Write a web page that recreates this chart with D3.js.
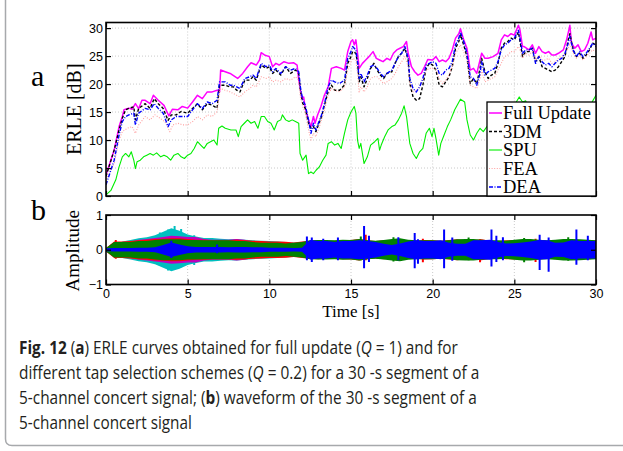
<!DOCTYPE html>
<html>
<head>
<meta charset="utf-8">
<script src="https://cdn.jsdelivr.net/npm/d3@7"></script>
<style>
  body { margin: 0; background: #fff; }
  svg { display: block; }
  .tick text { font-family: "Liberation Sans", Arial, sans-serif; font-size: 12.5px; fill: #000; }
  .serif { font-family: "Liberation Serif", "DejaVu Serif", serif; fill: #000; }
  .cap { font-family: "Open Sans", "Noto Sans", sans-serif; font-size: 18.5px; fill: #231f20; }
</style>
</head>
<body>
<div id="chart"></div>
<script>
// ---- data ----
const fullUpdate = [[0,3.75],[0.5,8.2],[0.8,12.4],[1,14.2],[1.1,15.4],[1.4,15.7],[1.6,15.5],[1.8,16.5],[2,15.6],[2.2,17.1],[2.4,17.1],[2.7,16.5],[2.9,18],[3.2,17.1],[3.55,16.2],[3.85,14.3],[4.06,15.5],[4.4,15.4],[4.67,16],[5,15.7],[5.3,16.8],[5.6,18],[5.9,17.4],[6.2,18.6],[6.5,18.6],[6.8,18.9],[6.95,18.6],[7.02,22.5],[7.3,22.2],[7.6,21.9],[7.76,21.6],[8.06,21],[8.37,21.9],[8.67,23.1],[8.88,23.8],[9.2,23.4],[9.4,24.3],[9.5,25.6],[9.7,25.2],[10,24.9],[10.2,23.1],[10.4,23.7],[10.6,23.4],[10.9,24],[11.2,23.7],[11.5,23.8],[11.7,23.4],[11.8,20.7],[12,17.4],[12.1,17.7],[12.2,15.7],[12.4,13.6],[12.55,12.4],[12.7,14.2],[12.8,13],[12.96,14.5],[13.16,16],[13.37,18],[13.6,19.5],[13.8,22.8],[14.1,23.1],[14.4,22.8],[14.6,22.5],[14.8,25.8],[15,27.6],[15.1,27.9],[15.2,27],[15.3,27.9],[15.4,25.5],[15.5,22.8],[15.7,23.7],[15.9,24.3],[16.1,24.9],[16.35,25.8],[16.55,24.6],[16.75,24.3],[16.96,24],[17.2,24.6],[17.4,24.3],[17.6,25.5],[17.8,26.1],[18,26.4],[18.2,26.7],[18.4,27.6],[18.5,25.5],[18.7,23.1],[18.9,22.2],[19.1,21.6],[19.3,21.9],[19.5,23.1],[19.7,24.4],[20,24.3],[20.2,24.9],[20.4,24],[20.6,24.3],[20.8,24],[21,24.6],[21.2,26.1],[21.4,28.2],[21.6,29],[21.7,29.9],[21.9,27.9],[22.1,26.4],[22.3,22.5],[22.5,22.8],[22.7,21.9],[22.9,24.3],[23,25.5],[23.2,24.6],[23.4,24.6],[23.7,24.9],[24,25.5],[24.2,27.9],[24.4,28.8],[24.6,28.5],[24.8,29],[25,28.75],[25.25,30.5],[25.35,29.6],[25.5,26.7],[25.6,26.7],[25.9,26.1],[26.1,27],[26.3,25.5],[26.5,26.7],[26.7,25.8],[26.9,25.5],[27.1,25.8],[27.3,25.2],[27.5,25.2],[27.7,25.5],[28,26.1],[28.2,27.9],[28.4,30.5],[28.5,27.3],[28.7,26.4],[28.9,27],[29.1,25.8],[29.3,26.1],[29.5,27.3],[29.7,29.3],[29.8,27.9],[30,28.2]];

const dm3 = [[0,3.5],[0.5,8.2],[0.8,11.8],[1,13.9],[1.2,15.4],[1.4,15.65],[1.7,15.95],[1.8,13.6],[2,15.65],[2.4,16.5],[2.7,15.65],[2.95,17.4],[3.2,16.5],[3.5,15.65],[3.8,13.5],[4,14.5],[4.3,14.5],[4.6,15.1],[5,14.8],[5.3,15.65],[5.6,16.5],[5.9,15.4],[6.2,16.5],[6.5,16.25],[6.8,15.65],[6.95,19.8],[7.3,19.8],[7.6,19.5],[7.8,19.5],[8,18.9],[8.2,18.6],[8.5,20.7],[8.8,20.7],[9,21.3],[9.2,20.7],[9.5,23.4],[9.8,22.8],[10,23.1],[10.2,21.9],[10.4,22.5],[10.7,21.6],[11,23.1],[11.3,21.9],[11.6,22.5],[11.8,21.9],[11.9,18.9],[12.05,16.5],[12.2,15.65],[12.4,13],[12.55,12.1],[12.7,12.4],[12.85,11.5],[13,12.7],[13.2,14.2],[13.4,16.5],[13.6,18.6],[13.8,19.8],[14,18.9],[14.3,18.9],[14.6,19.8],[14.8,23.7],[15,24.9],[15.1,25.8],[15.3,25.5],[15.4,23.7],[15.5,20.4],[15.6,21.3],[15.8,19.5],[16,21],[16.2,22.8],[16.4,23.7],[16.6,22.5],[16.8,21.6],[17,21],[17.2,21.9],[17.5,22.2],[17.7,23.7],[17.9,24.9],[18.1,25.5],[18.3,26.4],[18.5,24.3],[18.6,20.1],[18.8,17.7],[19,17.1],[19.2,17.4],[19.4,19.8],[19.6,22.8],[19.8,23.7],[20,23.4],[20.2,22.5],[20.4,19.8],[20.6,19.5],[20.8,20.4],[21,21.3],[21.2,23.1],[21.4,26.4],[21.6,27.6],[21.7,28.8],[21.9,27],[22.1,24.9],[22.3,20.1],[22.5,21],[22.7,20.1],[22.9,22.8],[23,24.6],[23.2,22.2],[23.4,21],[23.6,21.6],[23.8,21.9],[24,23.7],[24.2,26.4],[24.4,27.3],[24.6,27.6],[24.8,28.2],[25,27.9],[25.25,29.3],[25.4,26.7],[25.5,24.9],[25.7,25.8],[25.9,25.8],[26.1,26.4],[26.3,24],[26.5,24.9],[26.7,23.1],[26.9,22.8],[27.1,22.5],[27.3,22.2],[27.5,22.5],[27.7,23.1],[27.9,24],[28.1,24.9],[28.3,27.9],[28.4,29],[28.6,26.1],[28.8,24.9],[29,25.5],[29.2,24.6],[29.4,25.2],[29.6,26.1],[29.8,27.3],[30,27]];

const spu = [[0,0.2],[0.3,1],[0.6,2.9],[0.8,5.2],[1,7],[1.2,7.6],[1.4,7],[1.55,7.9],[1.7,6.4],[1.8,4.9],[1.9,6.1],[2.1,6.4],[2.3,7],[2.5,7.3],[2.7,7.6],[2.9,7.3],[3.1,7.7],[3.35,7],[3.55,7.3],[3.75,7],[3.96,6.4],[4.16,7.3],[4.4,7.6],[4.6,7],[4.8,6.7],[5,7.3],[5.2,7.6],[5.4,8.5],[5.6,9.7],[5.8,9.1],[6,8.5],[6.2,9.4],[6.4,9.7],[6.6,10],[6.8,9.1],[6.9,12.1],[7.1,12.5],[7.3,12.1],[7.65,11.8],[7.96,11.8],[8.1,10.6],[8.27,12.4],[8.47,13],[8.67,13.6],[8.88,13],[9.1,13.3],[9.3,12.1],[9.5,14.2],[9.7,14.2],[9.9,13.3],[10.1,13],[10.3,11.8],[10.5,13.3],[10.7,13.6],[10.8,14.5],[11,13.6],[11.2,13.3],[11.4,13.6],[11.6,13.3],[11.8,13],[11.88,7.6],[12.04,6.4],[12.25,7.3],[12.4,4],[12.55,4.3],[12.7,4],[12.86,4.6],[13.06,5.2],[13.27,6.4],[13.47,7.3],[13.6,9.4],[13.8,9.7],[14,9.1],[14.2,9.4],[14.4,8.5],[14.6,11.2],[14.8,13.6],[15,15],[15.2,16],[15.3,14.8],[15.4,10],[15.5,8.5],[15.6,9.4],[15.8,5.8],[16,7],[16.2,9.1],[16.45,9.7],[16.65,10.3],[16.75,8.2],[16.85,9.1],[17.06,10.6],[17.27,11.8],[17.5,12.4],[17.7,12.7],[17.9,13.6],[18.1,14.8],[18.25,16.1],[18.4,14.2],[18.6,9.4],[18.8,7.6],[19,6.7],[19.2,7.9],[19.4,8.5],[19.6,11.2],[19.8,12.1],[19.96,10.6],[20.08,12.1],[20.2,10.3],[20.37,7.3],[20.5,9.4],[20.7,10.9],[20.9,12.4],[21.1,13.6],[21.35,15.4],[21.55,16.5],[21.7,17.3],[21.96,16.8],[22.1,13.6],[22.3,10.9],[22.5,10],[22.7,11.2],[22.9,12.1],[23.1,11.5],[23.4,12.7],[23.8,14],[24.2,13],[24.6,15],[25,16.2],[25.3,17.7],[25.5,16.8],[25.7,17],[26,14],[26.5,12],[27,13],[27.5,11],[28,12.5],[28.5,13],[29,14],[29.5,15],[29.8,17],[30,18]];

const fea = [[0,3],[0.5,5.8],[0.8,10],[1,11.5],[1.3,12.1],[1.6,12.4],[1.8,11.2],[2,12.7],[2.4,14.2],[2.7,13.6],[3,14.5],[3.3,13.9],[3.6,13.3],[3.9,11.5],[4.1,12.7],[4.4,13],[4.7,12.7],[5,12.7],[5.3,13.3],[5.6,14.2],[5.9,13.6],[6.2,14.5],[6.5,14.2],[6.8,15.1],[7,19.2],[7.3,18.9],[7.6,18.6],[7.8,18.3],[8,18],[8.2,17.7],[8.5,18.6],[8.8,19.2],[9,19.8],[9.2,19.5],[9.5,21.3],[9.8,21],[10,21.3],[10.2,20.4],[10.4,20.7],[10.7,20.4],[11,21],[11.3,20.7],[11.6,21.3],[11.8,20.7],[11.9,17.7],[12.05,15.95],[12.2,14.8],[12.4,11.8],[12.55,10],[12.7,11.2],[12.85,10.6],[13,11.8],[13.2,13.6],[13.4,15.65],[13.6,18],[13.8,19.2],[14,18.9],[14.3,18.6],[14.6,19.5],[14.8,22.5],[15,24],[15.1,24.6],[15.3,24.3],[15.4,21.9],[15.5,18.6],[15.6,19.5],[15.8,18.6],[16,19.5],[16.2,21],[16.4,21.3],[16.6,21.3],[16.8,20.7],[17,20.1],[17.2,20.4],[17.5,21],[17.7,21.9],[17.9,23.1],[18.1,24],[18.3,24.9],[18.5,23.1],[18.6,20.1],[18.8,18.6],[19,18.9],[19.2,19.5],[19.4,21],[19.6,22.5],[19.8,22.8],[20,22.8],[20.2,22.5],[20.4,21],[20.6,20.1],[20.8,20.7],[21,21.6],[21.2,23.1],[21.4,25.5],[21.6,26.4],[21.7,27],[21.9,25.8],[22.1,24.3],[22.3,19.8],[22.5,19.5],[22.7,19.2],[22.9,21],[23,22.5],[23.2,20.4],[23.4,20.7],[23.6,21],[23.8,21.3],[24,22.5],[24.2,23.7],[24.4,24.9],[24.6,25.2],[24.8,25.8],[25,25.8],[25.25,26.7],[25.4,25.8],[25.5,24.6],[25.7,25.5],[25.9,25.2],[26.1,25.8],[26.3,24.3],[26.5,25.2],[26.7,24.3],[26.9,24.3],[27.1,24.6],[27.3,23.7],[27.5,24],[27.7,24.6],[27.9,24.9],[28.1,25.5],[28.3,26.4],[28.4,27.3],[28.6,25.5],[28.8,24.6],[29,25.2],[29.2,24.3],[29.4,24.9],[29.6,25.5],[29.8,26.1],[30,25.8]];

const dea = [[0,2],[0.5,6.4],[0.8,10.9],[1,13.3],[1.2,14.2],[1.4,14.5],[1.7,14.8],[1.8,12.7],[2,14.8],[2.4,15.65],[2.7,15.4],[2.95,16.5],[3.2,15.65],[3.5,14.8],[3.8,12.4],[4,13.6],[4.3,14.2],[4.6,14.2],[5,14.2],[5.3,15.4],[5.6,16.5],[5.9,15.65],[6.2,16.8],[6.5,16.5],[6.8,17.1],[6.95,20.4],[7.3,20.4],[7.6,19.8],[7.8,19.8],[8,19.5],[8.2,19.2],[8.5,21],[8.8,21.3],[9,21.6],[9.2,21],[9.5,23.7],[9.8,23.1],[10,23.4],[10.2,22.2],[10.4,22.8],[10.7,21.9],[11,23.1],[11.3,22.5],[11.6,22.8],[11.8,22.2],[11.9,19.5],[12.05,17.1],[12.2,16.25],[12.4,13.6],[12.55,11.2],[12.7,13],[12.85,11.8],[13,13],[13.2,14.5],[13.4,16.8],[13.6,19.5],[13.8,20.7],[14,20.4],[14.3,20.1],[14.6,20.7],[14.8,24.6],[15,25.8],[15.1,26.7],[15.3,26.1],[15.4,24],[15.5,21],[15.6,21.9],[15.8,20.4],[16,21.6],[16.2,23.1],[16.4,23.4],[16.6,22.8],[16.8,21.9],[17,21.3],[17.2,21.9],[17.5,22.5],[17.7,23.7],[17.9,24.9],[18.1,25.5],[18.3,26.7],[18.5,24.6],[18.6,21],[18.8,19.2],[19,18.6],[19.2,19.5],[19.4,21],[19.6,23.4],[19.8,23.7],[20,24],[20.2,23.7],[20.4,21.9],[20.6,21.6],[20.8,22.5],[21,22.8],[21.2,24],[21.4,27],[21.6,28.2],[21.7,29.3],[21.9,27.6],[22.1,25.5],[22.3,21.3],[22.5,21],[22.7,19.8],[22.9,21.9],[23,24],[23.2,21.6],[23.4,22.2],[23.6,22.5],[23.8,22.8],[24,24],[24.2,26.1],[24.4,27],[24.6,27.3],[24.8,27.9],[25,28.2],[25.25,29.6],[25.4,27.3],[25.5,25.5],[25.7,26.1],[25.9,26.1],[26.1,26.4],[26.3,23.7],[26.5,24.9],[26.7,24],[26.9,23.4],[27.1,23.7],[27.3,23.1],[27.5,23.7],[27.7,24.3],[27.9,24.6],[28.1,25.5],[28.3,27.3],[28.4,28.5],[28.6,26.1],[28.8,24.9],[29,25.8],[29.2,24.9],[29.4,25.5],[29.6,26.4],[29.8,27.3],[30,26.7]];

// waveform envelopes, one value per 0.5 s from 0 to 30 s
const waveTime = d3.range(0, 30.01, 0.5);
const envCyan = [0.05,0.12,0.24,0.28,0.33,0.36,0.42,0.52,0.62,0.55, 0.44,0.38,0.34,0.34,0.32,0.30,0.31,0.29,0.27,0.26, 0.25,0.24,0.22,0.20,0.20,0.22,0.24,0.22,0.22,0.21, 0.24,0.22,0.24,0.21,0.22,0.24,0.25,0.22,0.21,0.22, 0.25,0.24,0.22,0.21,0.25,0.24,0.21,0.22,0.21,0.22, 0.24,0.22,0.21,0.22,0.21,0.22,0.21,0.24,0.22,0.21, 0.20];
const envMagenta = [0.05,0.19,0.21,0.24,0.29,0.31,0.34,0.37,0.40,0.39, 0.37,0.37,0.31,0.29,0.29,0.29,0.31,0.29,0.24,0.24, 0.22,0.21,0.20,0.19,0.20,0.22,0.21,0.22,0.21,0.22, 0.22,0.21,0.22,0.21,0.22,0.21,0.22,0.21,0.22,0.21, 0.22,0.21,0.22,0.21,0.22,0.21,0.22,0.21,0.22,0.21, 0.22,0.21,0.22,0.21,0.22,0.21,0.23,0.22,0.21,0.22, 0.21];
const envRed = [0.05,0.24,0.24,0.25,0.27,0.29,0.31,0.32,0.33,0.33, 0.31,0.29,0.29,0.27,0.27,0.27,0.29,0.27,0.26,0.25, 0.24,0.24,0.23,0.21,0.24,0.26,0.27,0.25,0.26,0.27, 0.28,0.31,0.27,0.25,0.27,0.26,0.28,0.25,0.26,0.28, 0.27,0.26,0.28,0.30,0.27,0.28,0.30,0.26,0.25,0.27, 0.28,0.26,0.27,0.28,0.25,0.27,0.28,0.26,0.25,0.27, 0.26];
const envGreen = [0.05,0.22,0.22,0.22,0.25,0.25,0.28,0.30,0.30,0.30, 0.28,0.28,0.27,0.27,0.27,0.27,0.25,0.25,0.22,0.20, 0.20,0.20,0.18,0.20,0.22,0.27,0.28,0.28,0.27,0.29, 0.28,0.31,0.27,0.26,0.28,0.31,0.33,0.29,0.27,0.27, 0.27,0.26,0.27,0.30,0.31,0.31,0.29,0.27,0.27,0.26, 0.29,0.31,0.31,0.29,0.27,0.29,0.31,0.31,0.30,0.29, 0.27];
const envBlue = [0.04,0.05,0.05,0.05,0.06,0.06,0.07,0.14,0.21,0.15, 0.10,0.08,0.08,0.08,0.08,0.07,0.08,0.08,0.07,0.07, 0.06,0.06,0.06,0.05,0.06,0.28,0.25,0.25,0.22,0.25, 0.25,0.27,0.25,0.22,0.17,0.14,0.18,0.24,0.27,0.25, 0.25,0.27,0.20,0.17,0.17,0.27,0.27,0.29,0.22,0.18, 0.19,0.21,0.24,0.28,0.27,0.20,0.21,0.27,0.25,0.25, 0.25];
// isolated peaks per channel: [time, top, bottom]
const bluePeaks = [[4.0,0.26,-0.24],[6.8,0.15,-0.1],[12.3,0.38,-0.3],[12.6,0.35,-0.35],[13.3,0.32,-0.3],[14.2,0.35,-0.3],[15.8,0.68,-0.53],[16.1,0.4,-0.35],[17.9,0.36,-0.3],[18.9,0.48,-0.53],[19.1,0.3,-0.4],[20.7,0.58,-0.53],[21.2,0.35,-0.32],[23.6,0.58,-0.48],[23.9,0.4,-0.35],[24.3,0.36,-0.3],[26.55,0.43,-0.58],[27.1,0.35,-0.63],[28.8,0.58,-0.43],[29.5,0.4,-0.3]];
const cyanPeaks = [[3.3,0.5,-0.45],[3.8,0.58,-0.6],[4.2,0.68,-0.55],[4.6,0.6,-0.5],[5.4,0.42,-0.44]];
const greenPeaks = [[15.6,0.38,-0.3],[17.6,0.36,-0.34],[22.2,0.35,-0.3],[25.6,0.34,-0.36],[28.3,0.36,-0.32]];
const redPeaks = [[0.6,0.28,-0.26],[15.9,0.43,-0.3],[19.4,0.32,-0.36],[22.9,0.3,-0.36],[26.3,0.32,-0.35]];

const xTicks = [0, 5, 10, 15, 20, 25, 30];
const erleTicks = [0, 5, 10, 15, 20, 25, 30];
const ampTicks = [-1, 0, 1];

const W = 623, H = 451;
const svg = d3.select('#chart').append('svg').attr('width', W).attr('height', H);

// outer frame of the figure
svg.append('path')
  .attr('d', 'M5.5,0 V439 Q5.5,445.5 12,445.5 H623')
  .attr('fill', 'none').attr('stroke', '#a7a9ac').attr('stroke-width', 1.5);

const x = d3.scaleLinear().domain([0, 30]).range([106, 596]);
const yTop = d3.scaleLinear().domain([0, 31]).range([196, 22.5]);
const yBot = d3.scaleLinear().domain([-1, 1]).range([284.5, 215]);

function grid(y, yTicks) {
  const g = svg.append('g');
  const [y0, y1] = y.range();
  g.selectAll('.gx').data(xTicks.slice(1, -1)).join('line')
    .attr('x1', d => x(d)).attr('x2', d => x(d)).attr('y1', y1).attr('y2', y0)
    .attr('stroke', '#bdbdbd').attr('stroke-width', 0.8).attr('stroke-dasharray', '1,2');
  g.selectAll('.gy').data(yTicks.filter(d => y(d) < y0 - 1 && y(d) > y1 + 1)).join('line')
    .attr('x1', x(0)).attr('x2', x(30)).attr('y1', d => y(d)).attr('y2', d => y(d))
    .attr('stroke', '#bdbdbd').attr('stroke-width', 0.8).attr('stroke-dasharray', '1,2');
}

function frame(y, yTicks, showX) {
  const [y0, y1] = y.range();
  const ax = svg.append('g');
  ax.append('g').attr('transform', `translate(${x(0)},0)`)
    .call(d3.axisLeft(y).tickValues(yTicks).tickSize(-5).tickPadding(3)
      .tickFormat(d => d < 0 ? '\u2212' + Math.abs(d) : d));
  ax.append('g').attr('transform', `translate(${x(30)},0)`)
    .call(d3.axisRight(y).tickValues(yTicks).tickSize(-5).tickFormat(''));
  ax.append('g').attr('transform', `translate(0,${y0})`)
    .call(d3.axisBottom(x).tickValues(xTicks).tickSize(-5).tickPadding(5)
      .tickFormat(showX ? d => d : ''));
  ax.append('g').attr('transform', `translate(0,${y1})`)
    .call(d3.axisTop(x).tickValues(xTicks).tickSize(-5).tickFormat(''));
  ax.selectAll('.domain').remove();
  ax.selectAll('.tick line').attr('stroke', '#000').attr('stroke-width', 1.2);
  ax.append('rect').attr('x', x(0)).attr('y', y1).attr('width', x(30) - x(0)).attr('height', y0 - y1)
    .attr('fill', 'none').attr('stroke', '#000').attr('stroke-width', 1.6);
}

// ---- panel a: ERLE ----
grid(yTop, erleTicks);
svg.append('clipPath').attr('id', 'clipA').append('rect')
  .attr('x', x(0)).attr('y', yTop(31)).attr('width', x(30) - x(0)).attr('height', yTop(0) - yTop(31));
const line = d3.line().x(d => x(d[0])).y(d => yTop(d[1]));
const series = [
  { name: 'Full Update', data: fullUpdate, color: '#ff00ff', width: 1.5, dash: null },
  { name: '3DM', data: dm3, color: '#000000', width: 1.4, dash: '3,2' },
  { name: 'SPU', data: spu, color: '#00ee00', width: 1.1, dash: null },
  { name: 'FEA', data: fea, color: '#ff9f9f', width: 1.1, dash: '1,1.6' },
  { name: 'DEA', data: dea, color: '#0000ff', width: 1.4, dash: '4,1.5,1,1.5' }
];
const lines = svg.append('g').attr('clip-path', 'url(#clipA)');
lines.selectAll('path').data(series).join('path')
  .attr('d', d => line(d.data))
  .attr('fill', 'none')
  .attr('stroke', d => d.color)
  .attr('stroke-width', d => d.width)
  .attr('stroke-dasharray', d => d.dash)
  .attr('stroke-linejoin', 'round');
frame(yTop, erleTicks, false);

// legend
const lg = svg.append('g');
lg.append('rect').attr('x', 487).attr('y', 102).attr('width', 109).attr('height', 94)
  .attr('fill', '#fff').attr('stroke', '#000').attr('stroke-width', 1.3);
const entry = lg.selectAll('g.entry').data(series).join('g')
  .attr('transform', (d, i) => `translate(488,${113 + i * 18.5})`);
entry.append('line').attr('x1', 1).attr('x2', 14).attr('y1', 0).attr('y2', 0)
  .attr('stroke', d => d.color).attr('stroke-width', d => d.width)
  .attr('stroke-dasharray', d => d.dash);
entry.append('text').attr('class', 'serif').attr('x', 15).attr('y', 6)
  .attr('font-size', 18.5).text(d => d.name);

// ---- panel b: waveform ----
grid(yBot, ampTicks);
svg.append('clipPath').attr('id', 'clipB').append('rect')
  .attr('x', x(0)).attr('y', yBot(1)).attr('width', x(30) - x(0)).attr('height', yBot(-1) - yBot(1));
const waves = svg.append('g').attr('clip-path', 'url(#clipB)');
const channels = [
  { env: envCyan, peaks: cyanPeaks, color: '#00bfbf' },
  { env: envMagenta, peaks: [], color: '#bf00bf' },
  { env: envRed, peaks: redPeaks, color: '#ff0000' },
  { env: envGreen, peaks: greenPeaks, color: '#008000' },
  { env: envBlue, peaks: bluePeaks, color: '#0000ff' }
];
const area = d3.area().curve(d3.curveLinear)
  .x(d => x(d[0])).y0(d => yBot(-d[1])).y1(d => yBot(d[1]));
const ch = waves.selectAll('g').data(channels).join('g');
ch.append('path')
  .attr('d', c => area(waveTime.map((t, i) => [t, c.env[i]])))
  .attr('fill', c => c.color);
ch.selectAll('line').data(c => c.peaks.map(p => ({ p, color: c.color }))).join('line')
  .attr('x1', d => x(d.p[0])).attr('x2', d => x(d.p[0]))
  .attr('y1', d => yBot(d.p[1])).attr('y2', d => yBot(d.p[2]))
  .attr('stroke', d => d.color).attr('stroke-width', 2);
frame(yBot, ampTicks, true);

// ---- labels ----
svg.append('text').attr('class', 'serif').attr('font-size', 20)
  .attr('transform', `translate(81,${(yTop(0) + yTop(31)) / 2}) rotate(-90)`)
  .attr('text-anchor', 'middle').text('ERLE [dB]');
svg.append('text').attr('class', 'serif').attr('font-size', 19)
  .attr('transform', `translate(79,${(yBot(-1) + yBot(1)) / 2 + 1}) rotate(-90)`)
  .attr('text-anchor', 'middle').text('Amplitude');
svg.append('text').attr('class', 'serif').attr('font-size', 17)
  .attr('x', (x(0) + x(30)) / 2).attr('y', 317).attr('text-anchor', 'middle').text('Time [s]');
svg.append('text').attr('class', 'serif').attr('font-size', 30).attr('x', 31).attr('y', 86).text('a');
svg.append('text').attr('class', 'serif').attr('font-size', 30).attr('x', 31).attr('y', 220).text('b');

// ---- caption ----
const capLines = [
  { y: 354, len: 439, parts: [['Fig. 12', 'b'], [' (', ''], ['a', 'b'], [') ERLE curves obtained for full update (', ''], ['Q', 'i'], [' = 1) and for', '']] },
  { y: 379, len: 461, parts: [['different tap selection schemes (', ''], ['Q', 'i'], [' = 0.2) for a 30 -s segment of a', '']] },
  { y: 404, len: 458, parts: [['5-channel concert signal; (', ''], ['b', 'b'], [') waveform of the 30 -s segment of a', '']] },
  { y: 429, len: 173, parts: [['5-channel concert signal', '']] }
];
capLines.forEach(l => {
  const t = svg.append('text').attr('class', 'cap').attr('x', 0).attr('y', 0);
  l.parts.forEach(p => {
    t.append('tspan').text(p[0])
      .attr('font-weight', p[1] === 'b' ? 'bold' : null)
      .attr('font-style', p[1] === 'i' ? 'italic' : null);
  });
  const w = t.node().getComputedTextLength();
  t.attr('transform', `translate(19,${l.y}) scale(${l.len / w},1)`);
});
</script>
</body>
</html>
